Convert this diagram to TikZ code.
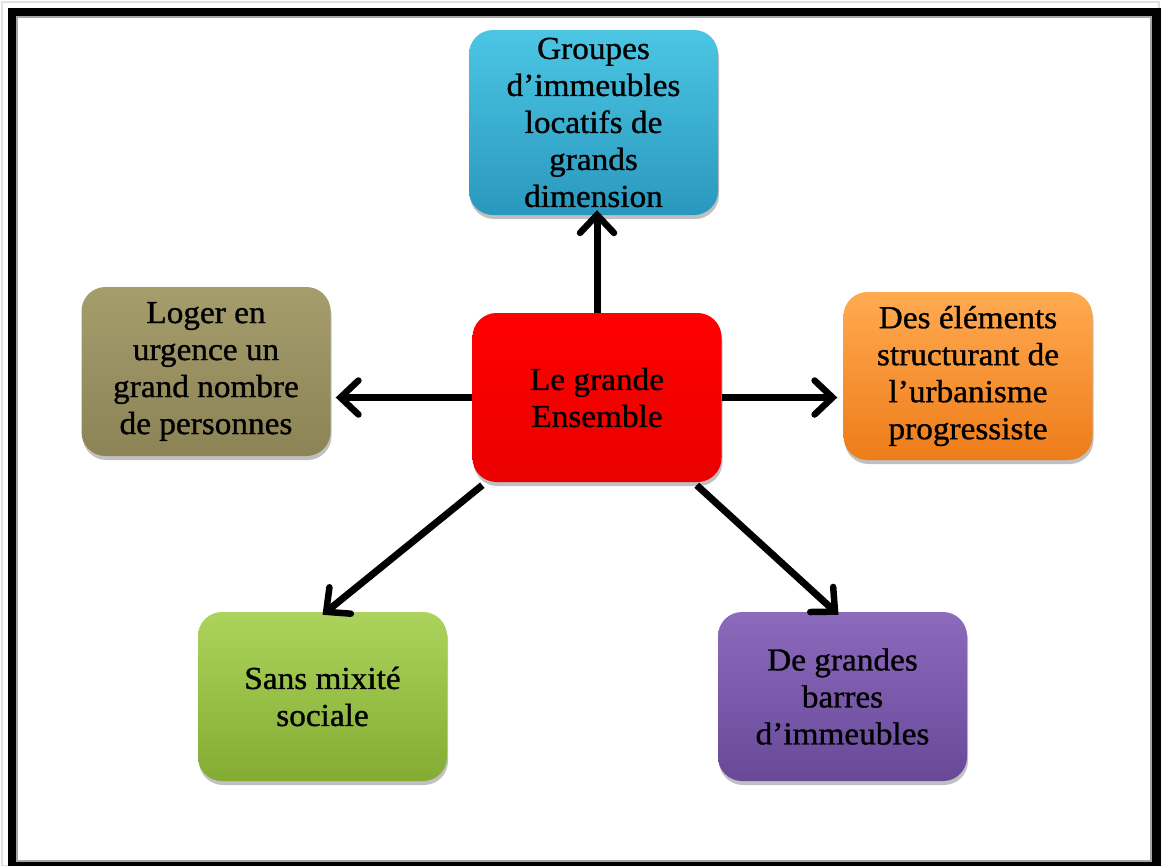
\documentclass[tikz,border=0pt]{standalone}
\usepackage{fontspec}
\setmainfont{Liberation Serif}
\newfontfamily\boxfont[FakeBold=1, FakeStretch=1.04]{Liberation Serif}
\usetikzlibrary{arrows.meta,shadows,calc}

\definecolor{cyanTop}{HTML}{4CC6E4}
\definecolor{cyanBot}{HTML}{2A98BE}
\definecolor{khakiTop}{HTML}{A69D6D}
\definecolor{khakiBot}{HTML}{8C8356}
\definecolor{orangeTop}{HTML}{FFAA50}
\definecolor{orangeBot}{HTML}{EE7C1A}
\definecolor{greenTop}{HTML}{ACD45C}
\definecolor{greenBot}{HTML}{84AC33}
\definecolor{purpleTop}{HTML}{8C6ABC}
\definecolor{purpleBot}{HTML}{684998}
\definecolor{redFill}{HTML}{FF0000}

\tikzset{
  box/.style={rounded corners=24pt, minimum width=249pt, minimum height=169pt,
    align=center, inner sep=2pt, text=black,
    font=\boxfont\fontsize{32}{37}\selectfont,
    drop shadow={shadow xshift=1pt, shadow yshift=-4pt, opacity=0.35, fill=black!70}},
  link/.style={line width=7pt,
    -{Straight Barb[length=18pt,width=34pt,line width=6.5pt,line cap=round]}}
}

\begin{document}
\begin{tikzpicture}[x=1pt,y=-1pt]
  \useasboundingbox (0,0) rectangle (1161,865);
  \fill[white] (0,0) rectangle (1161,865);
  % outer frame
  \draw[black!12, line width=2pt] (2,2) rectangle (1159,866);
  \draw[black, line width=8.5pt] (12,12) rectangle (1156.5,866);
  \draw[black!35, line width=1.2pt] (17,17) rectangle (1151,861);

  % central topic and its five aspects
  \node[box, shade, top color=redFill, bottom color=redFill!92!black, minimum height=169pt]
    (c) at (597,397.5) {Le grande\\Ensemble};
  \node[box, shade, top color=cyanTop, bottom color=cyanBot, minimum height=185pt]
    (t) at (593.5,122.5) {Groupes\\d’immeubles\\locatifs de\\grands\\dimension};
  \node[box, shade, top color=khakiTop, bottom color=khakiBot]
    (l) at (206,371.5) {Loger en\\urgence un\\grand nombre\\de personnes};
  \node[box, shade, top color=orangeTop, bottom color=orangeBot, minimum height=168pt]
    (r) at (968,376) {Des éléments\\structurant de\\l’urbanisme\\progressiste};
  \node[box, shade, top color=greenTop, bottom color=greenBot]
    (g) at (322.5,696.5) {Sans mixité\\sociale};
  \node[box, shade, top color=purpleTop, bottom color=purpleBot]
    (p) at (842.5,696.5) {De grandes\\barres\\d’immeubles};

  % connectors
  \draw[link] (c.north) -- ([yshift=5pt]c.north |- t.south);
  \draw[link] (c.west) -- ([xshift=5pt]c.west -| l.east);
  \draw[link] (c.east) -- ([xshift=-6pt]c.east -| r.west);
  \draw[link] ([xshift=10pt,yshift=-3pt]c.south west) -- ([yshift=-3pt]g.north);
  \draw[link] ([xshift=-25pt,yshift=-3pt]c.south east) -- ([xshift=-4pt,yshift=-3pt]p.north);
\end{tikzpicture}
\end{document}
